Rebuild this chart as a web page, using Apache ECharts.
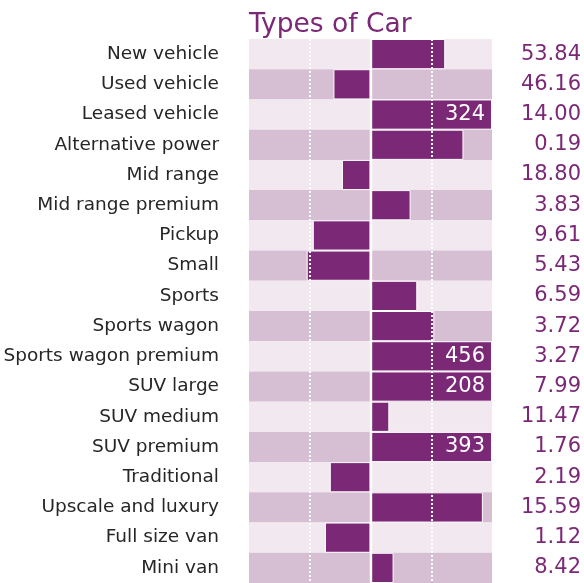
<!DOCTYPE html>
<html><head><meta charset="utf-8">
<script src="https://cdn.jsdelivr.net/npm/echarts@6/dist/echarts.min.js"></script>
<style>html,body{margin:0;padding:0;background:#fff}#c{width:584px;height:583px}</style>
</head><body><div id="c"></div>
<script>
const categories = ['New vehicle','Used vehicle','Leased vehicle','Alternative power','Mid range','Mid range premium','Pickup','Small','Sports','Sports wagon','Sports wagon premium','SUV large','SUV medium','SUV premium','Traditional','Upscale and luxury','Full size van','Mini van'];
const barValues = [123,-61,324,153,-47,66,-95,-105,77,105,456,208,31,393,-67,185,-75,38];
const rightValues = ['53.84','46.16','14.00','0.19','18.80','3.83','9.61','5.43','6.59','3.72','3.27','7.99','11.47','1.76','2.19','15.59','1.12','8.42'];
const axisLimit = 200;
const guideValues = [-100, 100];

const PURPLE = '#7b2877';
const FONT = 'DejaVu Sans';
const chart = echarts.init(document.getElementById('c'));
chart.setOption({
  animation: false,
  title: {text: 'Types of Car', left: 244, top: 7, textStyle: {color: PURPLE, fontSize: 26.5, fontWeight: 'normal', fontFamily: FONT}},
  grid: {left: 249, right: 92, top: 39, bottom: 0, containLabel: false},
  xAxis: {type: 'value', min: -axisLimit, max: axisLimit, interval: 100, axisLabel: {show: false}, axisLine: {show: false}, axisTick: {show: false}, splitLine: {show: false}},
  yAxis: [
    {type: 'category', data: categories, inverse: true, axisLine: {show: false}, axisTick: {show: false},
     axisLabel: {color: '#262626', fontSize: 18.5, fontFamily: FONT, margin: 30},
     splitArea: {show: true, areaStyle: {color: ['#f1e9ef', '#d7bfd3']}}},
    {type: 'category', data: rightValues, inverse: true, position: 'right', axisLine: {show: false}, axisTick: {show: false},
     axisLabel: {color: PURPLE, fontSize: 21, fontFamily: FONT, align: 'right', margin: 89}}
  ],
  series: [{
    type: 'bar', barWidth: '100%', z: 3,
    itemStyle: {color: PURPLE, borderColor: '#fff', borderWidth: 1},
    data: barValues.map(v => ({value: Math.max(-axisLimit, Math.min(axisLimit, v)), raw: v,
      label: {show: Math.abs(v) > axisLimit}})),
    label: {position: 'insideRight', color: '#fff', fontSize: 21, fontFamily: FONT, distance: 7,
      formatter: p => String(p.data.raw)},
    markLine: {silent: true, symbol: 'none', label: {show: false},
      data: guideValues.map(g => ({xAxis: g, lineStyle: {color: '#fff', width: 2, type: [2, 2]}}))
        .concat([{xAxis: 0, lineStyle: {color: '#fff', width: 2.4, type: 'solid'}}])}
  }]
});
</script></body></html>
